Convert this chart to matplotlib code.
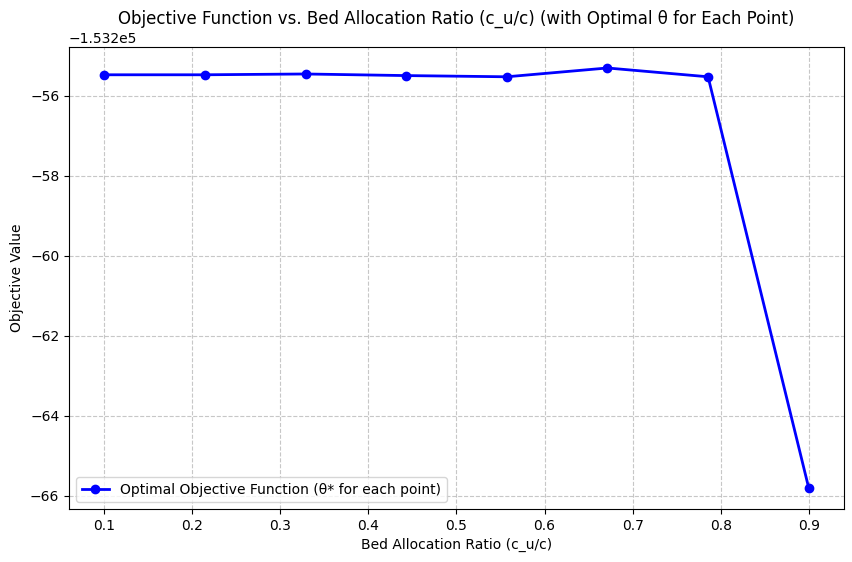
import matplotlib.pyplot as plt

ratios = [0.1, 0.2143, 0.3286, 0.4429, 0.5571, 0.6714, 0.7857, 0.9]
objective = [-153255.48, -153255.48, -153255.46, -153255.50, -153255.53,
             -153255.31, -153255.53, -153265.81]

fig = plt.figure(figsize=(8.53, 5.62), dpi=100)
ax = fig.add_axes([0.0809, 0.0943, 0.9085, 0.8221])

ax.plot(ratios, objective, 'o-', color='blue', linewidth=2, markersize=6,
        label='Optimal Objective Function (θ* for each point)')
ax.set_title('Objective Function vs. Bed Allocation Ratio (c_u/c) (with Optimal θ for Each Point)')
ax.set_xlabel('Bed Allocation Ratio (c_u/c)')
ax.set_ylabel('Objective Value')
ax.grid(True, linestyle='--', alpha=0.7)
ax.legend(loc='lower left')

fig.savefig('out.png', dpi=100)
